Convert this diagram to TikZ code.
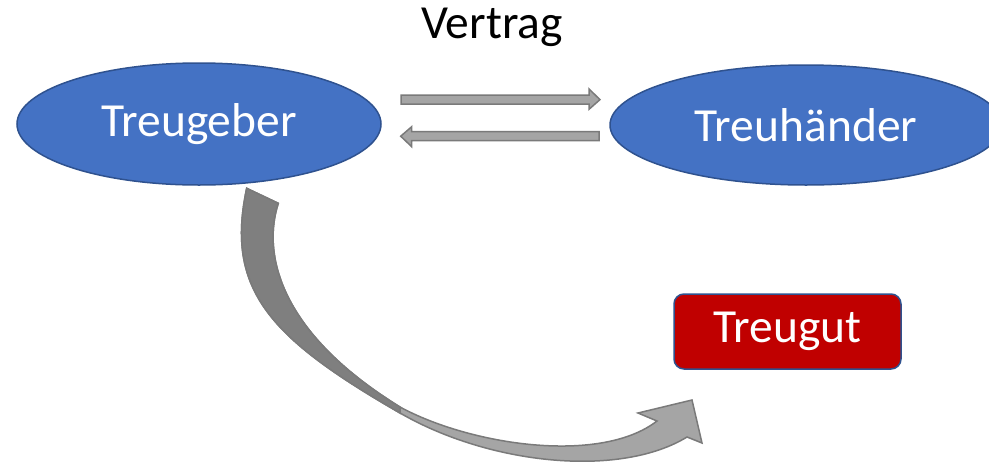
\documentclass[tikz,border=0pt]{standalone}
\usepackage{fontspec}
\setmainfont{Carlito}
\usetikzlibrary{shapes.geometric,calc}
\definecolor{partyblue}{HTML}{4472C4}
\definecolor{partyedge}{HTML}{2F528F}
\definecolor{assetred}{HTML}{C00000}
\definecolor{arrowlight}{HTML}{A5A5A5}
\definecolor{arrowdark}{HTML}{7F7F7F}
\definecolor{arrowedge}{HTML}{7A7A7A}
\tikzset{
  party/.style={ellipse, draw=partyedge, line width=1.5pt, fill=partyblue,
    text=white, inner sep=0pt, font=\fontsize{47.5}{57}\selectfont},
  asset/.style={rectangle, rounded corners=10pt, draw=partyedge, line width=1.5pt,
    fill=assetred, text=white, inner sep=0pt, minimum width=227pt, minimum height=75pt,
    font=\fontsize{47.5}{57}\selectfont},
  blockarrow/.style={fill=arrowlight, draw=arrowedge, line width=1.5pt, line join=miter},
  label/.style={font=\fontsize{47.5}{57}\selectfont, inner sep=0pt}
}
\begin{document}
\begin{tikzpicture}[x=1pt, y=-1pt]
\useasboundingbox (0,0) rectangle (989,464);
\begin{scope}
\clip (0,0) rectangle (989,464);

% parties and the trust asset
\node[party, minimum width=364pt, minimum height=122pt] (giver) at (199,124) {Treugeber};
\node[party, minimum width=392pt, minimum height=120pt] (trustee) at (806,125) {Treuhänder};
\node[asset] (asset) at (787.5,331.5) {Treugut};
\node[label] (contract) at (492,27) {Vertrag};

% contract arrows between the parties
\coordinate (topL) at (401,99.6);
\coordinate (topR) at (600,99.6);
\coordinate (botL) at (400.7,136.2);
\coordinate (botR) at (599,136.2);
\draw[blockarrow] ($(topL)+(0,-4.6)$) -- ($(topR)+(-11,-4.6)$) -- ($(topR)+(-11,-10.6)$)
  -- (topR) -- ($(topR)+(-11,9.7)$) -- ($(topR)+(-11,4.6)$) -- ($(topL)+(0,4.6)$) -- cycle;
\draw[blockarrow] ($(botR)+(0,-4.5)$) -- ($(botL)+(11,-4.5)$) -- ($(botL)+(11,-9.5)$)
  -- (botL) -- ($(botL)+(11,10.5)$) -- ($(botL)+(11,4.5)$) -- ($(botR)+(0,4.5)$) -- cycle;

% curved transfer arrow from Treugeber to Treugut
\coordinate (cs1) at (246.7,188.3);
\coordinate (cs2) at (278.3,203.3);
\coordinate (midin) at (400,407);
\coordinate (midout) at (400,413);
\coordinate (tip) at (692,400);
\fill[arrowlight, draw=arrowedge, line width=1.5pt, line join=miter]
  (cs1) -- (cs2) .. controls (263,250) and (275,330) .. (midin)
  .. controls (470,445) and (600,465) .. (657,421)
  -- (638,413) -- (tip) -- (702,443) -- (687,437)
  .. controls (620,478) and (490,465) .. (midout)
  .. controls (270,338) and (225,290) .. (cs1) -- cycle;
\fill[arrowdark, draw=arrowedge, line width=1.5pt, line join=miter]
  (cs1) -- (cs2) .. controls (263,250) and (275,330) .. (midin)
  -- (midout)
  .. controls (270,338) and (225,290) .. (cs1) -- cycle;
\end{scope}
\end{tikzpicture}
\end{document}
